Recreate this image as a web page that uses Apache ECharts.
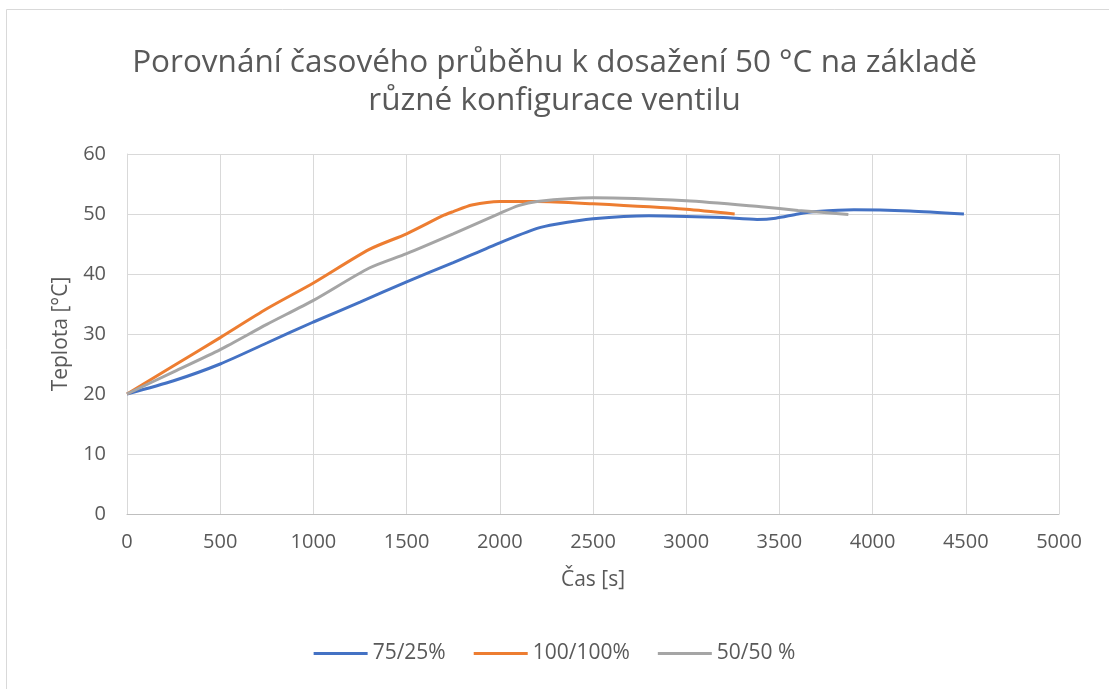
<!DOCTYPE html>
<html>
<head>
<meta charset="utf-8">
<script src="https://cdn.jsdelivr.net/npm/echarts@6/dist/echarts.min.js"></script>
<style>
  html, body { margin: 0; padding: 0; background: #fff; }
  #chart { width: 1109px; height: 689px; }
</style>
</head>
<body>
<div id="chart"></div>
<script>
// čas [s] a teplota [°C] pro jednotlivé konfigurace ventilu
var cas7525 = [0, 250, 500, 750, 1000, 1250, 1500, 1750, 2000, 2200, 2300, 2500, 2800, 3000, 3200, 3380, 3480, 3600, 3700, 3900, 4200, 4490];
var tep7525 = [20, 22.2, 25.0, 28.5, 32.0, 35.3, 38.7, 41.9, 45.2, 47.6, 48.3, 49.2, 49.7, 49.6, 49.4, 49.1, 49.3, 50.0, 50.4, 50.7, 50.5, 50.0];

var cas100 = [0, 250, 500, 750, 1000, 1300, 1500, 1700, 1750, 1850, 2000, 2200, 2500, 3000, 3260];
var tep100 = [20, 24.7, 29.4, 34.2, 38.5, 44.1, 46.7, 49.8, 50.4, 51.5, 52.1, 52.1, 51.7, 50.8, 50.0];

var cas5050 = [0, 250, 500, 750, 1000, 1300, 1500, 1750, 2000, 2100, 2200, 2500, 3000, 3400, 3600, 3870];
var tep5050 = [20, 23.7, 27.4, 31.6, 35.6, 41.0, 43.4, 46.7, 50.1, 51.4, 52.1, 52.7, 52.2, 51.2, 50.6, 49.9];

var nazvy = ['75/25%', '100/100%', '50/50 %'];
var barvy = ['#4472C4', '#ED7D31', '#A5A5A5'];

var font = '"Open Sans", "Noto Sans", sans-serif';
var textColor = '#595959';

function pary(x, y) {
  return x.map(function (v, i) { return [v, y[i]]; });
}

var data = [pary(cas7525, tep7525), pary(cas100, tep100), pary(cas5050, tep5050)];

var myChart = echarts.init(document.getElementById('chart'));
var option = {
  animation: false,
  backgroundColor: '#fff',
  title: {
    text: 'Porovnání časového průběhu k dosažení 50 °C na základě\nrůzné konfigurace ventilu',
    left: 'center',
    top: 39,
    textStyle: {
      fontFamily: font,
      fontWeight: 'normal',
      fontSize: 31.5,
      lineHeight: 38,
      color: textColor
    }
  },
  legend: {
    bottom: 20,
    left: 'center',
    itemWidth: 54,
    itemHeight: 3,
    itemGap: 28,
    icon: 'rect',
    textStyle: { fontFamily: font, fontSize: 21, color: textColor },
    data: nazvy
  },
  graphic: [{
    type: 'rect',
    shape: { x: 6.5, y: 9.5, width: 1200, height: 800 },
    style: { fill: 'none', stroke: '#d9d9d9', lineWidth: 1 },
    silent: true
  }],
  grid: { left: 127, right: 50, top: 154, bottom: 175, containLabel: false },
  xAxis: {
    type: 'value',
    min: 0, max: 5000, interval: 500,
    name: 'Čas [s]',
    nameLocation: 'middle',
    nameGap: 56,
    nameTextStyle: { fontFamily: font, fontSize: 21, color: textColor },
    axisLine: { show: true, lineStyle: { color: '#bfbfbf', width: 1 } },
    axisTick: { show: false },
    splitLine: { show: true, lineStyle: { color: '#d9d9d9', width: 1 } },
    axisLabel: { fontFamily: font, fontSize: 20, color: textColor, margin: 18, formatter: function (v) { return String(v); } }
  },
  yAxis: {
    type: 'value',
    min: 0, max: 60, interval: 10,
    name: 'Teplota [°C]',
    nameLocation: 'middle',
    nameGap: 55,
    nameTextStyle: { fontFamily: font, fontSize: 21, color: textColor },
    axisLine: { show: true, lineStyle: { color: '#d9d9d9', width: 1 } },
    axisTick: { show: false },
    splitLine: { show: true, lineStyle: { color: '#d9d9d9', width: 1 } },
    axisLabel: { fontFamily: font, fontSize: 20, color: textColor, margin: 21 }
  },
  series: nazvy.map(function (n, i) {
    return {
      name: n,
      type: 'line',
      data: data[i],
      smooth: 0.25,
      showSymbol: false,
      symbol: 'none',
      lineStyle: { color: barvy[i], width: 3 },
      itemStyle: { color: barvy[i] }
    };
  })
};
myChart.setOption(option);
</script>
</body>
</html>
